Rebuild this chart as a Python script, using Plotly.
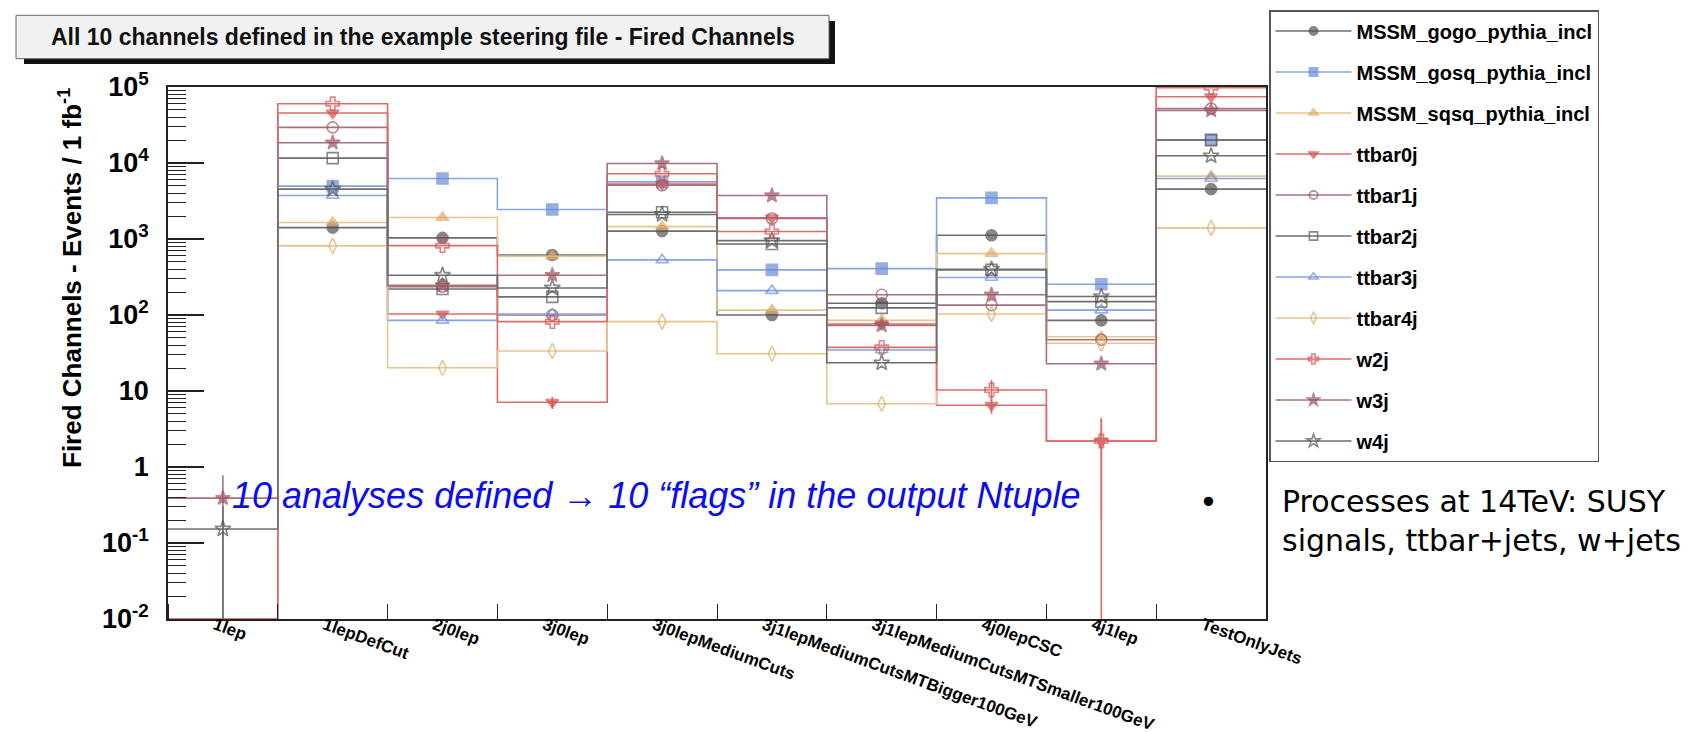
import plotly.graph_objects as go

# ---------------- data ----------------
categories = ["1lep", "1lepDefCut", "2j0lep", "3j0lep", "3j0lepMediumCuts",
              "3j1lepMediumCutsMTBigger100GeV", "3j1lepMediumCutsMTSmaller100GeV",
              "4j0lepCSC", "4j1lep", "TestOnlyJets"]

MSSM_gogo_pythia_incl = [0, 1410, 1035, 617, 1270, 100, 143, 1120, 85, 4530]
MSSM_gosq_pythia_incl = [0, 4960, 6250, 2440, 5650, 392, 407, 3480, 254, 20200]
MSSM_sqsq_pythia_incl = [0, 1645, 1914, 593, 1455, 116, 85, 643, 51.8, 6720]
ttbar0j = [0, 45400, 103, 7.1, 5270, 1897, 76, 6.5, 2.2, 74500]
ttbar1j = [0, 29400, 236, 100, 5100, 1860, 185, 135, 47.3, 52200]
ttbar2j = [0, 11600, 220, 173, 2250, 861, 124, 392, 150, 20000]
ttbar3j = [0, 3730, 85, 103, 531, 209, 34.6, 311, 116, 6250]
ttbar4j = [0, 811, 20.2, 33.6, 81.7, 30.9, 6.8, 103, 42.4, 1400]
w2j = [0, 60300, 818, 81.7, 7210, 1253, 37.5, 10.3, 2.2, 98000]
w3j = [0.39, 18500, 245, 334, 9860, 3730, 73, 185, 22.8, 49200]
w4j = [0.153, 4530, 334, 227, 2100, 953, 23.5, 400, 175, 12440]

# statistical errors (only visible ones)
ttbar0j_err = [0, 0, 0, 1.3, 0, 0, 0, 1.5, 2.2, 0]
w2j_err = [0, 0, 0, 0, 0, 0, 0, 3.7, 2.0, 0]
w3j_err = [0.39, 0, 0, 0, 0, 0, 0, 0, 0, 0]
w4j_err = [0.153, 0, 0, 0, 0, 0, 0, 0, 0, 0]

y_tick_vals = [1e-2, 1e-1, 1, 10, 1e2, 1e3, 1e4, 1e5]
y_tick_text = ["10<sup>-2</sup>", "10<sup>-1</sup>", "1", "10", "10<sup>2</sup>",
               "10<sup>3</sup>", "10<sup>4</sup>", "10<sup>5</sup>"]

# ---------------- styling ----------------
RED_L, RED_M = "#e06a6a", "#d24f4f"
MAU_L, MAU_M = "#a8727a", "#9a5560"
GRY_L, GRY_M = "#6e6e6e", "#555555"
BLU_L, BLU_M = "#86a3e2", "#6a8cd6"
TAN_L, TAN_M = "#e8c48e", "#dcae6a"

series = [
    ("MSSM_gogo_pythia_incl", MSSM_gogo_pythia_incl, None, GRY_L, GRY_M, "circle", 11),
    ("MSSM_gosq_pythia_incl", MSSM_gosq_pythia_incl, None, BLU_L, BLU_M, "square", 11),
    ("MSSM_sqsq_pythia_incl", MSSM_sqsq_pythia_incl, None, TAN_L, TAN_M, "triangle-up", 11),
    ("ttbar0j", ttbar0j, ttbar0j_err, RED_L, RED_M, "triangle-down", 11),
    ("ttbar1j", ttbar1j, None, MAU_L, MAU_M, "circle-open", 11),
    ("ttbar2j", ttbar2j, None, GRY_L, GRY_M, "square-open", 11),
    ("ttbar3j", ttbar3j, None, BLU_L, BLU_M, "triangle-up-open", 11),
    ("ttbar4j", ttbar4j, None, TAN_L, TAN_M, "diamond-tall-open", 11),
    ("w2j", w2j, w2j_err, RED_L, RED_M, "cross-open", 11),
    ("w3j", w3j, w3j_err, MAU_L, MAU_M, "star", 11),
    ("w4j", w4j, w4j_err, GRY_L, GRY_M, "star-open", 12),
]

FLOOR = 1e-2  # empty bins drawn at the axis minimum (as ROOT does)
nb = len(categories)
centers = [i + 0.5 for i in range(nb)]
xs = [0] + centers + [nb]

fig = go.Figure()
for name, vals, errs, lc, mc, sym, ms in series:
    yv = [v if v > 0 else FLOOR for v in vals]
    ys = [yv[0]] + yv + [yv[-1]]
    sizes = [0] + [ms if v > 0 else 0 for v in vals] + [0]
    trace = dict(
        x=xs, y=ys, name=name, legendgroup=name, mode="lines+markers",
        line=dict(shape="hvh", color=lc, width=1.6),
        marker=dict(symbol=sym, size=sizes, color=mc,
                    line=dict(color=mc, width=1.6)),
        hoverinfo="skip",
    )
    if errs is not None:
        trace["error_y"] = dict(type="data", array=[0] + errs + [0],
                                color=lc, thickness=1.6, width=0)
    fig.add_trace(go.Scatter(**trace))

# ---------------- layout ----------------
W, H = 1694, 732
L, R, T, B = 160, 436, 79, 121
PW, PH = W - L - R, H - T - B


def px2x(px):
    return (px - L) / PW


def py2y(py):
    return (H - B - py) / PH


minor_y = [m * 10 ** k for k in range(-2, 5) for m in range(2, 10)]

fig.update_layout(
    width=W, height=H,
    margin=dict(l=L, r=R, t=T, b=B, autoexpand=False),
    paper_bgcolor="white", plot_bgcolor="white",
    font=dict(family="Liberation Sans", color="black"),
    showlegend=True,
    legend=dict(
        x=px2x(1261), y=py2y(2), xanchor="left", yanchor="top",
        bgcolor="white", bordercolor="#555555", borderwidth=1.5,
        font=dict(family="Liberation Sans", size=20, weight="bold", color="black"),
        tracegroupgap=12, itemsizing="trace", itemwidth=76, maxheight=720,
    ),
    xaxis=dict(
        range=[0, nb], showgrid=False, zeroline=False,
        tickmode="array", tickvals=centers, ticktext=categories,
        ticks="", tickangle=20, ticklabelstandoff=-12, ticklabelshift=-8,
        tickfont=dict(family="Liberation Sans", size=17, weight="bold", color="black"),
        showline=True, linecolor="#222222", linewidth=1.5, mirror=True,
        minor=dict(tickmode="linear", tick0=0, dtick=1, ticks="inside",
                   ticklen=15, tickcolor="#222222", tickwidth=1.3, showgrid=False),
    ),
    yaxis=dict(
        type="log", range=[-2, 5], showgrid=False, zeroline=False,
        tickmode="array", tickvals=y_tick_vals, ticktext=y_tick_text,
        ticks="inside", ticklen=36, tickwidth=1.5, tickcolor="#222222",
        tickfont=dict(family="Liberation Sans", size=27, weight="bold", color="black"),
        ticklabelstandoff=12,
        showline=True, linecolor="#222222", linewidth=1.5, mirror=True,
        minor=dict(tickmode="array", tickvals=minor_y, ticks="inside", ticklen=18,
                   tickwidth=1.3, tickcolor="#222222", showgrid=False),
    ),
)

# title pave with shadow
fig.add_shape(type="rect", xref="paper", yref="paper",
              x0=px2x(16), x1=px2x(827), y0=py2y(56), y1=py2y(13),
              fillcolor="#111111", line=dict(width=0), layer="above")
fig.add_shape(type="rect", xref="paper", yref="paper",
              x0=px2x(8), x1=px2x(821), y0=py2y(50.7), y1=py2y(7.3),
              fillcolor="#f1f1f1", line=dict(color="#666666", width=1), layer="above")

annotations = [
    dict(text="All 10 channels defined in the example steering file - Fired Channels",
         x=px2x(414.5), y=py2y(29), xanchor="center", yanchor="middle",
         font=dict(family="Liberation Sans", size=23, weight="bold", color="#111111")),
    dict(text="Fired Channels - Events / 1 fb<sup>-1</sup>",
         x=px2x(62), y=py2y(270), xanchor="center", yanchor="middle", textangle=-90,
         font=dict(family="Liberation Sans", size=26, weight="bold", color="black")),
    dict(text="10 analyses defined \u2192 10 \u201cflags\u201d in the output Ntuple",
         x=px2x(222), y=py2y(487), xanchor="left", yanchor="middle",
         font=dict(family="Liberation Sans", size=36, style="italic", color="#0c0cf0")),
    dict(text="\u2022", x=px2x(1200), y=py2y(494), xanchor="center", yanchor="middle",
         font=dict(family="DejaVu Sans", size=32, color="black")),
    dict(text="Processes at 14TeV: SUSY<br>signals, ttbar+jets, w+jets",
         x=px2x(1272), y=py2y(513), xanchor="left", yanchor="middle", align="left",
         font=dict(family="DejaVu Sans", size=30, color="black")),
]
for a in annotations:
    fig.add_annotation(xref="paper", yref="paper", showarrow=False, **a)

fig.write_html("out.html")
